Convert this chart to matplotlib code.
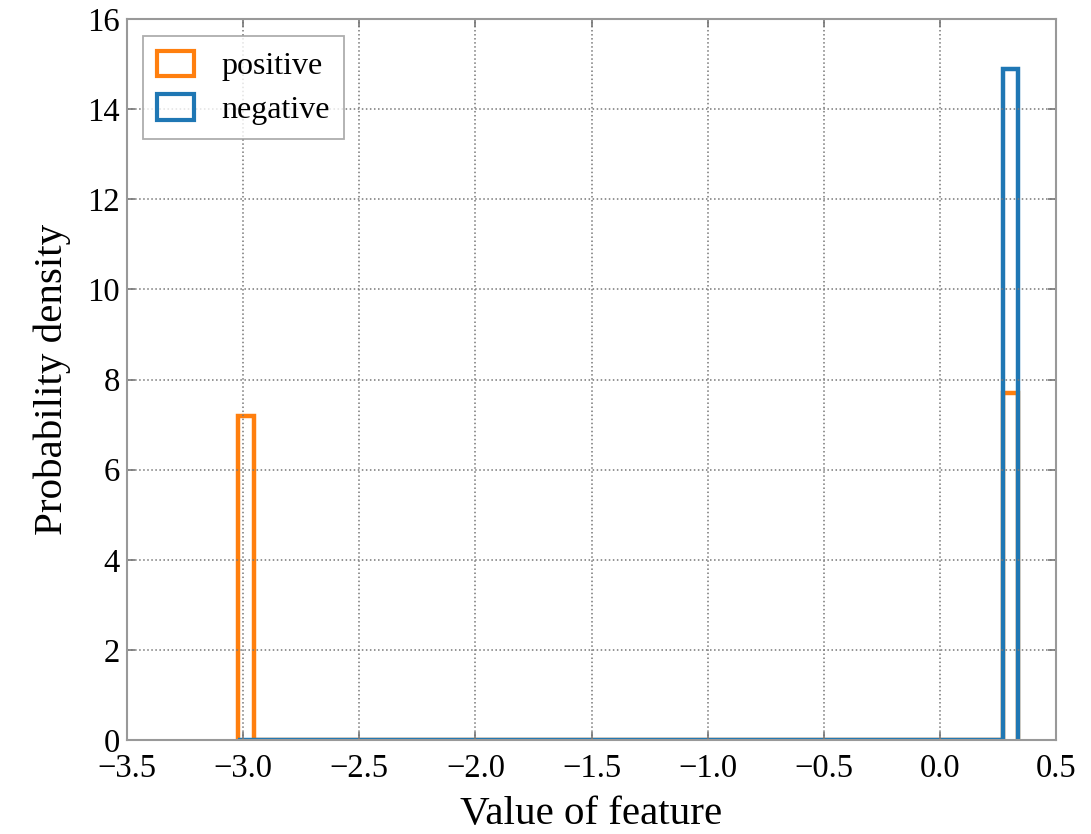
import numpy as np
import matplotlib.pyplot as plt
from matplotlib.patches import Patch

plt.rcParams['font.family'] = ['Liberation Serif', 'DejaVu Serif']
plt.rcParams['mathtext.fontset'] = 'stix'

# shared histogram bins (50 bins over the sample range)
bin_lo, bin_hi, n_bins = -3.02, 0.338, 50
edges = np.linspace(bin_lo, bin_hi, n_bins + 1)

# density per bin, only the end bins are occupied
pos_density = [7.2] + [0.0] * 48 + [7.7]
neg_density = [0.0] * 49 + [14.9]

labels = ['positive', 'negative']
colors = ['#ff7f0e', '#1f77b4']

fig = plt.figure(figsize=(10.91, 8.34), dpi=100)
ax = fig.add_axes([0.1164, 0.1127, 0.8516, 0.8645])

ax.stairs(pos_density, edges, color=colors[0], lw=3.2, baseline=0)
ax.stairs(neg_density, edges, color=colors[1], lw=3.2, baseline=0)

ax.set_xlim(-3.5, 0.5)
ax.set_ylim(0, 16)
ax.set_xticks(np.arange(-3.5, 0.51, 0.5))
ax.set_yticks(np.arange(0, 17, 2))
ax.grid(True, linestyle=':', color='#777777', linewidth=1.1)

ax.tick_params(direction='in', top=True, right=True, length=6, width=1.2,
               color='#777777', labelsize=23.5)
ax.tick_params(axis='x', pad=10)
ax.tick_params(axis='y', pad=5)
for sp in ax.spines.values():
    sp.set_color('#999999')
    sp.set_linewidth(1.5)

ax.set_xlabel('Value of feature', fontsize=29.5, labelpad=8)
ax.set_ylabel('Probability density', fontsize=29.5, labelpad=12)

handles = [Patch(facecolor='none', edgecolor=c, lw=3) for c in colors]
leg = ax.legend(handles, labels, loc='upper left', fontsize=23, frameon=True,
                fancybox=False, edgecolor='#999999', handlelength=1.15,
                handleheight=0.85, handletextpad=0.85, borderpad=0.45,
                labelspacing=0.4, borderaxespad=0,
                bbox_to_anchor=(0.017, 0.976))
leg.get_frame().set_linewidth(1.3)

fig.savefig('out.png', dpi=100)
